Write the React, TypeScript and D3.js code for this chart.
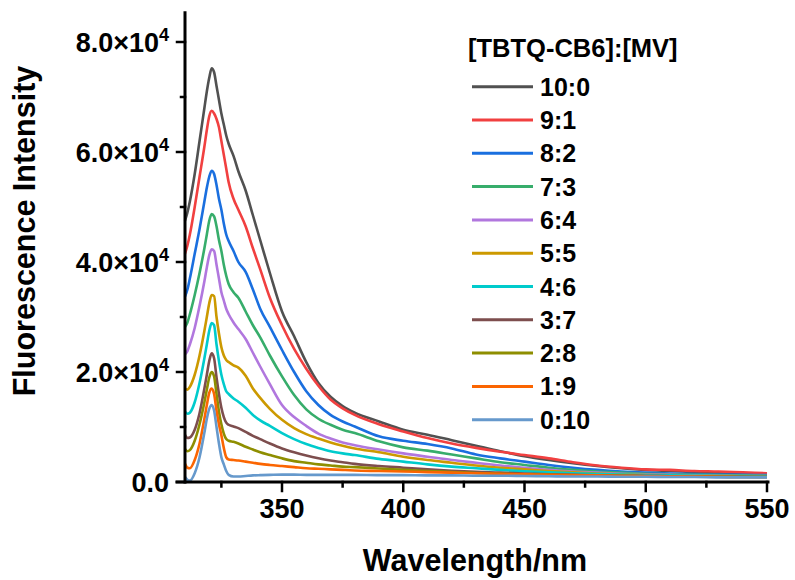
import React from "react";
import * as d3 from "d3";

// Wavelength grid (nm)
const wavelengths = [310, 311, 312, 314, 316, 318, 319, 320, 321, 322, 323, 324, 325, 326, 327, 328, 330, 332, 335, 338, 341, 345, 350, 355, 360, 365, 370, 375, 380, 390, 400, 410, 420, 430, 440, 450, 460, 470, 480, 490, 500, 510, 520, 530, 540, 550];

// Intensities in units of 10^3 counts
const s10_0 = [47.5, 49, 51, 56, 62, 68, 71, 73.5, 75.2, 74.5, 72, 69.5, 67, 65, 63, 61.5, 59.3, 56.5, 53, 48.5, 44, 38, 31, 26.5, 21.8, 18, 15.5, 13.8, 12.6, 11, 9.5, 8.6, 7.6, 6.6, 5.6, 4.7, 4.0, 3.4, 2.9, 2.5, 2.2, 2.0, 1.8, 1.6, 1.5, 1.4];
const s9_1 = [41.5, 43, 45, 50, 55.5, 61, 64, 66.5, 67.5, 67, 66, 64.5, 62, 59.5, 57, 54.5, 51.5, 49.5, 46.5, 42.5, 38.7, 33.5, 28.5, 24.2, 20.6, 17.5, 15, 13.4, 12.2, 10.5, 9.2, 8, 7, 6.2, 5.5, 4.9, 4.3, 3.6, 3.0, 2.6, 2.3, 2.2, 2.0, 1.9, 1.75, 1.6];
const s8_2 = [33.7, 35, 37, 41.5, 46, 51, 53.5, 55.5, 56.6, 56, 54, 51.5, 49.5, 47, 45, 43.8, 42, 40, 38.2, 35, 31.5, 28.2, 24, 20, 16.5, 14, 12.2, 11, 10.1, 8.3, 7.5, 6.9, 6.1, 5.0, 4.3, 3.7, 3.1, 2.6, 2.2, 1.9, 1.7, 1.55, 1.45, 1.35, 1.3, 1.25];
const s7_3 = [28.2, 29, 30.5, 34, 38, 42.5, 45, 47.5, 48.7, 48.3, 46.5, 44, 42, 39.5, 37.5, 36, 34.5, 33.5, 31, 28.5, 26.3, 23, 19.2, 15.8, 13.2, 11.5, 10.4, 9.5, 8.9, 7.4, 6.3, 5.7, 5.0, 4.3, 3.6, 3.1, 2.6, 2.2, 1.9, 1.7, 1.5, 1.4, 1.3, 1.25, 1.2, 1.15];
const s6_4 = [23.2, 23.8, 25, 28, 32, 36.5, 39, 41.2, 42.3, 42, 39.5, 37, 34.5, 33, 31.5, 30.5, 29, 27.8, 26, 23.5, 21, 17.8, 14, 11.8, 10.2, 8.8, 7.9, 7.2, 6.7, 5.9, 5.2, 4.6, 4.0, 3.5, 3.0, 2.6, 2.2, 1.9, 1.7, 1.5, 1.4, 1.3, 1.2, 1.15, 1.1, 1.1];
const s5_5 = [17, 16.8, 17.3, 19.5, 23, 27.5, 30, 32.5, 34, 33.8, 30, 27, 24.5, 23, 22.2, 21.8, 21.2, 20.8, 19.3, 17, 15.3, 13.3, 11.3, 9.8, 8.7, 7.9, 7.2, 6.6, 6.1, 5.4, 4.6, 4.0, 3.5, 3.0, 2.6, 2.3, 2.0, 1.75, 1.55, 1.4, 1.3, 1.2, 1.15, 1.1, 1.05, 1.0];
const s4_6 = [12.8, 12.4, 12.6, 14.5, 18, 22.5, 25, 27.5, 28.9, 28.5, 25, 22, 19.5, 17.8, 16.5, 16, 15.2, 14.6, 13.5, 12.2, 11.2, 10.2, 8.9, 7.8, 6.9, 6.2, 5.6, 5.2, 4.9, 4.2, 3.7, 3.2, 2.8, 2.5, 2.2, 1.95, 1.75, 1.6, 1.45, 1.35, 1.25, 1.2, 1.15, 1.1, 1.1, 1.05];
const s3_7 = [8.6, 8.0, 8.1, 9.5, 12.5, 17, 19.5, 22, 23.4, 22.5, 19, 16, 13.5, 11.8, 10.8, 10.4, 10.1, 9.8, 9.1, 8.4, 7.8, 7.0, 6.1, 5.4, 4.8, 4.3, 3.9, 3.6, 3.3, 2.9, 2.6, 2.3, 2.05, 1.85, 1.7, 1.55, 1.4, 1.3, 1.2, 1.15, 1.1, 1.05, 1.0, 0.95, 0.95, 0.9];
const s2_8 = [6.0, 5.6, 5.8, 7.5, 10.5, 14.5, 16.8, 19, 20, 19.2, 16, 12.8, 10.5, 8.8, 7.8, 7.5, 7.3, 7.0, 6.4, 5.9, 5.4, 4.9, 4.3, 3.8, 3.5, 3.2, 3.0, 2.8, 2.7, 2.45, 2.2, 2.0, 1.8, 1.65, 1.5, 1.4, 1.3, 1.2, 1.15, 1.1, 1.05, 1.0, 0.95, 0.95, 0.9, 0.9];
const s1_9 = [3.3, 2.6, 2.5, 4, 7, 11.5, 14, 16.2, 17, 16, 13, 10.5, 8.5, 6.2, 4.5, 4.1, 4.0, 3.9, 3.7, 3.5, 3.3, 3.1, 2.9, 2.7, 2.5, 2.4, 2.3, 2.2, 2.1, 2.0, 1.9, 1.8, 1.7, 1.6, 1.5, 1.4, 1.3, 1.25, 1.2, 1.15, 1.1, 1.05, 1.0, 0.95, 0.9, 0.9];
const s0_10 = [0.9, 0.4, 0.25, 1.6, 4.5, 9, 11.5, 13.3, 14, 13, 10, 7, 4.5, 3.2, 2.0, 1.3, 1.0, 1.0, 1.1, 1.2, 1.25, 1.3, 1.35, 1.35, 1.3, 1.3, 1.3, 1.3, 1.3, 1.25, 1.25, 1.2, 1.2, 1.15, 1.15, 1.1, 1.05, 1.0, 1.0, 0.95, 0.95, 0.9, 0.9, 0.85, 0.85, 0.85];

const seriesLabels = ["10:0", "9:1", "8:2", "7:3", "6:4", "5:5", "4:6", "3:7", "2:8", "1:9", "0:10"];
const seriesValues = [s10_0, s9_1, s8_2, s7_3, s6_4, s5_5, s4_6, s3_7, s2_8, s1_9, s0_10];
const seriesColors = ["#515151", "#F14040", "#1A6FDF", "#37AD6B", "#B177DE", "#CC9900", "#00CBCC", "#7D4E4E", "#8E8E00", "#FB6501", "#6699CC"];

const xMajorTicks = [350, 400, 450, 500, 550];
const xMinorTicks = [325, 375, 425, 475, 525];
const yMajorTicks = [0, 20, 40, 60, 80];
const yMajorMantissa = ["0.0", "2.0", "4.0", "6.0", "8.0"];
const yMinorTicks = [10, 30, 50, 70];

const legendTitle = "[TBTQ-CB6]:[MV]";
const xTitle = "Wavelength/nm";
const yTitle = "Fluorescence Intensity";

const FONT = "'Liberation Sans', Arial, sans-serif";

export default function App() {
  const W = 795;
  const H = 580;
  const x = d3.scaleLinear().domain([310, 550]).range([185, 767]);
  const y = d3.scaleLinear().domain([0, 80]).range([482, 42]);
  const yTop = y(85.3);

  const line = d3
    .line<[number, number]>()
    .x((d) => x(d[0]))
    .y((d) => y(d[1]))
    .curve(d3.curveMonotoneX);

  const legendX0 = 472;
  const legendX1 = 533;
  const legendY0 = 86.7;
  const legendDy = 33.3;

  return (
    <svg
      width={W}
      height={H}
      style={{ position: "absolute", left: 0, top: 0, background: "#fff" }}
      fontFamily={FONT}
      fontWeight="bold"
    >
      <rect x={0} y={0} width={W} height={H} fill="#fff" />
      {/* series */}
      <g fill="none" strokeWidth={2.6} strokeLinejoin="round">
        {seriesValues.map((vals, i) => (
          <path
            key={seriesLabels[i]}
            d={line(wavelengths.map((w, j) => [w, vals[j]] as [number, number])) || ""}
            stroke={seriesColors[i]}
          />
        ))}
      </g>

      {/* axes */}
      <g stroke="#000" strokeLinecap="square">
        <line x1={x(310)} x2={x(310)} y1={yTop} y2={y(0)} strokeWidth={3} />
        <line x1={x(310) - 8} x2={x(550) + 1} y1={y(0)} y2={y(0)} strokeWidth={3} />
        {yMajorTicks.map((t) => (
          <line key={"ym" + t} x1={x(310) - 8} x2={x(310)} y1={y(t)} y2={y(t)} strokeWidth={2.5} />
        ))}
        {yMinorTicks.map((t) => (
          <line key={"yn" + t} x1={x(310) - 4} x2={x(310)} y1={y(t)} y2={y(t)} strokeWidth={2.5} />
        ))}
        {xMajorTicks.map((t) => (
          <line key={"xm" + t} x1={x(t)} x2={x(t)} y1={y(0)} y2={y(0) + 9} strokeWidth={2.5} />
        ))}
        {xMinorTicks.map((t) => (
          <line key={"xn" + t} x1={x(t)} x2={x(t)} y1={y(0)} y2={y(0) + 4.5} strokeWidth={2.5} />
        ))}
      </g>

      {/* y tick labels */}
      {yMajorTicks.map((t, i) => (
        <text key={"yl" + t} x={169} y={y(t) + 9.5} textAnchor="end" fontSize={27} fill="#000">
          {t === 0 ? (
            yMajorMantissa[i]
          ) : (
            <>
              <tspan>{yMajorMantissa[i] + "\u00d710"}</tspan>
              <tspan dy={-11} fontSize={18}>4</tspan>
            </>
          )}
        </text>
      ))}

      {/* x tick labels */}
      {xMajorTicks.map((t) => (
        <text key={"xl" + t} x={x(t)} y={518} textAnchor="middle" fontSize={27} fill="#000">
          {t}
        </text>
      ))}

      {/* axis titles */}
      <text x={475} y={571} textAnchor="middle" fontSize={30.5} fill="#000">
        {xTitle}
      </text>
      <text
        transform={`translate(35, 231) rotate(-90)`}
        textAnchor="middle"
        fontSize={30.5}
        fill="#000"
      >
        {yTitle}
      </text>

      {/* legend */}
      <text x={468} y={57} fontSize={25.5} fill="#000">
        {legendTitle}
      </text>
      {seriesLabels.map((lab, i) => (
        <g key={"lg" + lab}>
          <line
            x1={legendX0}
            x2={legendX1}
            y1={legendY0 + i * legendDy}
            y2={legendY0 + i * legendDy}
            stroke={seriesColors[i]}
            strokeWidth={3}
          />
          <text x={540} y={legendY0 + i * legendDy + 9} fontSize={25} fill="#000">
            {lab}
          </text>
        </g>
      ))}
    </svg>
  );
}
